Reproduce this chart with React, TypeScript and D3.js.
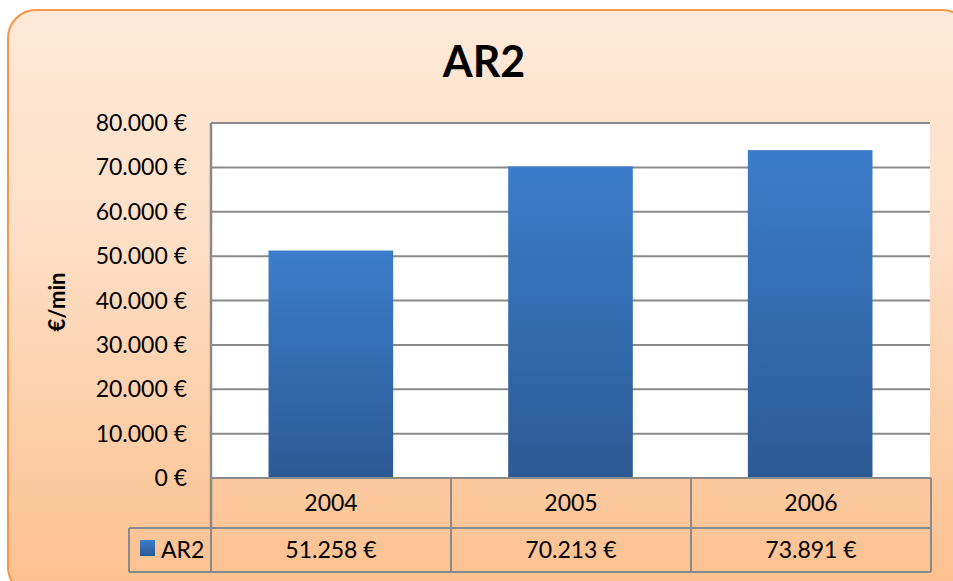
import React from "react";
import * as d3 from "d3";

const categories = ["2004", "2005", "2006"];
const seriesName = "AR2";
const values = [51258, 70213, 73891];
const yTicks = [0, 10000, 20000, 30000, 40000, 50000, 60000, 70000, 80000];
const title = "AR2";
const yLabel = "€/min";

const W = 953;
const H = 581;
const FONT = "Lato, 'Open Sans', sans-serif";

const locale = d3.formatLocale({
  decimal: ",",
  thousands: ".",
  grouping: [3],
  currency: ["", " €"],
});
const fmt = locale.format("$,.0f");

export default function App() {
  const plotL = 211;
  const plotR = 930;
  const plotT = 123;
  const plotB = 478;
  const row1B = 528;
  const row2B = 572;
  const legendL = 129;

  const y = d3.scaleLinear().domain([0, 80000]).range([plotB, plotT]);
  const x = d3
    .scaleBand<string>()
    .domain(categories)
    .range([plotL, plotR])
    .paddingInner(0.48)
    .paddingOuter(0.24);
  const col = d3.scaleBand<string>().domain(categories).range([plotL, plotR + 1]);

  const grid = "#8a8a8a";

  return (
    <svg
      width={W}
      height={H}
      style={{ position: "absolute", left: 0, top: 0, display: "block" }}
      fontFamily={FONT}
    >
      <defs>
        <linearGradient id="bg" x1="0" y1="0" x2="0" y2="1">
          <stop offset="0" stopColor="#fee9d8" />
          <stop offset="0.35" stopColor="#fde0c8" />
          <stop offset="1" stopColor="#fcc08e" />
        </linearGradient>
        <linearGradient id="bar" x1="0" y1="0" x2="0" y2="1">
          <stop offset="0" stopColor="#3b7dcb" />
          <stop offset="1" stopColor="#2c5a94" />
        </linearGradient>
      </defs>
      <rect
        x={8}
        y={10}
        width={962}
        height={585}
        rx={28}
        ry={28}
        fill="url(#bg)"
        stroke="#f79646"
        strokeWidth={2}
      />
      <text
        x={484}
        y={77}
        textAnchor="middle"
        fontSize={43}
        fontWeight={700}
        fill="#000"
      >
        {title}
      </text>
      <text
        transform={`translate(65,302) rotate(-90)`}
        textAnchor="middle"
        fontSize={22}
        fontWeight={700}
        fill="#000"
      >
        {yLabel}
      </text>
      {/* plot area */}
      <rect x={plotL} y={plotT} width={plotR - plotL} height={plotB - plotT} fill="#fff" />
      {yTicks.map((t) => (
        <g key={t}>
          {t > 0 && (
            <line x1={plotL} x2={plotR} y1={y(t)} y2={y(t)} stroke={grid} strokeWidth={2} />
          )}
          <text
            x={187}
            y={y(t)}
            dy="0.35em"
            textAnchor="end"
            fontSize={23}
            fill="#000"
          >
            {fmt(t)}
          </text>
        </g>
      ))}
      {categories.map((c, i) => (
        <rect
          key={c}
          x={x(c)}
          y={y(values[i])}
          width={x.bandwidth()}
          height={plotB - y(values[i])}
          fill="url(#bar)"
        />
      ))}
      {/* left axis */}
      <line x1={plotL} x2={plotL} y1={plotT} y2={row1B} stroke={grid} strokeWidth={2.5} />
      {/* data table */}
      <g stroke={grid} strokeWidth={2} fill="none">
        <line x1={plotL} x2={plotR + 1} y1={plotB} y2={plotB} />
        <line x1={legendL} x2={plotR + 1} y1={row1B} y2={row1B} />
        <line x1={legendL} x2={plotR + 1} y1={row2B} y2={row2B} />
        <line x1={legendL} x2={legendL} y1={row1B} y2={row2B} />
        {categories.map((c) => (
          <line key={c} x1={(col(c) as number) + col.bandwidth()} x2={(col(c) as number) + col.bandwidth()} y1={plotB} y2={row2B} />
        ))}
        <line x1={plotL} x2={plotL} y1={row1B} y2={row2B} />
      </g>
      {categories.map((c, i) => (
        <g key={c}>
          <text
            x={(col(c) as number) + col.bandwidth() / 2}
            y={(plotB + row1B) / 2}
            dy="0.35em"
            textAnchor="middle"
            fontSize={23}
            fill="#000"
          >
            {c}
          </text>
          <text
            x={(col(c) as number) + col.bandwidth() / 2}
            y={(row1B + row2B) / 2}
            dy="0.35em"
            textAnchor="middle"
            fontSize={23}
            fill="#000"
          >
            {fmt(values[i])}
          </text>
        </g>
      ))}
      <rect x={140} y={540} width={15} height={16} fill="url(#bar)" />
      <text x={161} y={(row1B + row2B) / 2} dy="0.35em" fontSize={23} fill="#000">
        {seriesName}
      </text>
    </svg>
  );
}
